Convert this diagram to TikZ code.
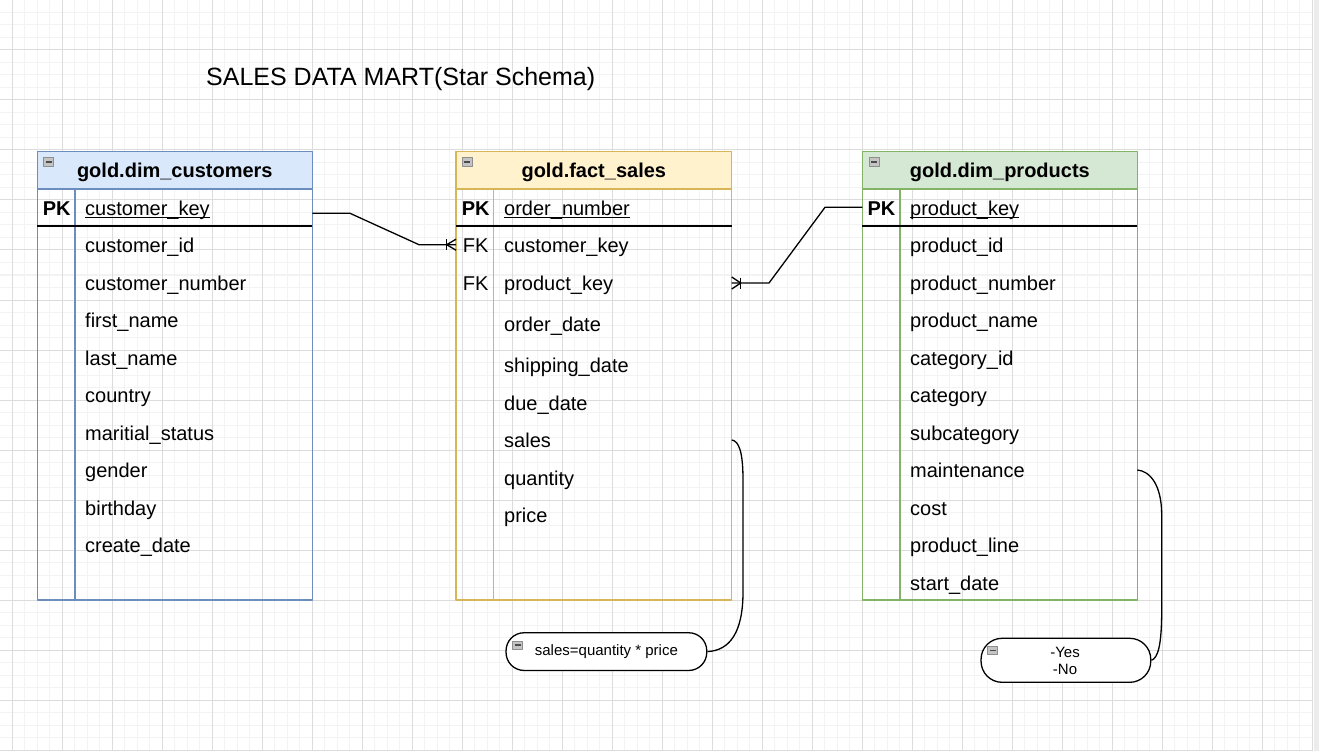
\documentclass[tikz,border=0pt]{standalone}
\usepackage{fontspec}
\setmainfont{Liberation Sans}
\usetikzlibrary{calc}
\definecolor{bluefill}{HTML}{DAE8FC}
\definecolor{bluestroke}{HTML}{6C8EBF}
\definecolor{yellowfill}{HTML}{FFF2CC}
\definecolor{yellowstroke}{HTML}{D6B656}
\definecolor{greenfill}{HTML}{D5E8D4}
\definecolor{greenstroke}{HTML}{82B366}
\definecolor{gridminor}{HTML}{F3F3F3}
\definecolor{gridmajor}{HTML}{DCDCDC}
\definecolor{iconfill}{HTML}{C4C4C4}
\definecolor{iconstroke}{HTML}{8E8E8E}
\newcommand\keyline[1]{\setbox0=\hbox{#1}\rlap{\rule[-2.6pt]{\wd0}{1.1pt}}\box0}
\tikzset{
  rowtxt/.style={anchor=base west, inner sep=0pt, font=\fontsize{20}{24}\selectfont},
  keytxt/.style={anchor=base west, inner sep=0pt, font=\fontsize{20}{24}\selectfont\bfseries},
  hdrtxt/.style={anchor=base, inner sep=0pt, font=\fontsize{20}{24}\selectfont\bfseries},
  hdrbox/.style={anchor=north west, line width=1.3pt, minimum width=275, minimum height=37.3, inner sep=0pt, outer sep=0pt},
  bodybox/.style={anchor=north west, line width=1.3pt, minimum width=275, minimum height=411, inner sep=0pt, outer sep=0pt},
  rowanchor/.style={inner sep=0pt, outer sep=0pt, minimum width=275, minimum height=30},
  icon/.style={draw=iconstroke, fill=iconfill, line width=0.8pt, minimum width=10, minimum height=9, inner sep=0pt,
    path picture={\draw[black!70, line width=1.6pt] ([xshift=-3pt]path picture bounding box.center) -- ([xshift=3pt]path picture bounding box.center);}},
  conn/.style={draw=black, line width=1.3pt},
  notebox/.style={draw=black, fill=white, line width=1.3pt, inner sep=0pt},
  notetxt/.style={font=\fontsize{15}{17.3}\selectfont, inner sep=0pt}
}
\begin{document}
\begin{tikzpicture}[x=1pt,y=-1pt,line join=round]
\useasboundingbox (0,0) rectangle (1319,751);
\fill[white] (0,0) rectangle (1319,751);
% grid
\foreach \i in {0,...,104} {\pgfmathsetmacro\xx{12.3+12.5*\i}\draw[gridminor,line width=1pt] (\xx,0) -- (\xx,751);}
\foreach \j in {1,...,60} {\pgfmathsetmacro\yy{12.5*\j}\draw[gridminor,line width=1pt] (0,\yy) -- (1313,\yy);}
\foreach \i in {0,...,26} {\pgfmathsetmacro\xx{12.3+50*\i}\draw[gridmajor,line width=1pt] (\xx,0) -- (\xx,751);}
\foreach \j in {1,...,15} {\pgfmathsetmacro\yy{50*\j}\draw[gridmajor,line width=1pt] (0,\yy) -- (1313,\yy);}
\fill[gray!15] (1313.5,0) rectangle (1319,751);

% title
\node[anchor=base west, inner sep=0pt, font=\fontsize{25}{29}\selectfont] (title) at (206,85.5) {SALES DATA MART(Star Schema)};

% ===== customers table =====
\node[hdrbox, fill=bluefill, draw=bluestroke] (cust-h) at (37.3,151.7) {};
\node[bodybox, draw=bluestroke] (cust-b) at (37.3,189) {};
\draw[bluestroke, line width=1.3pt] (75,189) -- (75,600);
\draw[black, line width=1.3pt] (37.3,226) -- (312.3,226);
\node[icon] (cust-i) at (48.8,162) {};
\node[hdrtxt] (cust-t) at (174.8,177.3) {gold.dim\_customers};
\node[keytxt] (cust-pk) at (42.7,215.3) {PK};
\node[rowtxt] (cust-r0) at (85,215.3) {\keyline{customer\_key}};
\node[rowtxt] (cust-r1) at (85,252.3) {customer\_id};
\node[rowtxt] (cust-r2) at (85,290.3) {customer\_number};
\node[rowtxt] (cust-r3) at (85,327.3) {first\_name};
\node[rowtxt] (cust-r4) at (85,365.3) {last\_name};
\node[rowtxt] (cust-r5) at (85,402.3) {country};
\node[rowtxt] (cust-r6) at (85,440.3) {maritial\_status};
\node[rowtxt] (cust-r7) at (85,477.3) {gender};
\node[rowtxt] (cust-r8) at (85,515.3) {birthday};
\node[rowtxt] (cust-r9) at (85,552.3) {create\_date};
\node[rowanchor] (cust-pkrow) at (174.8,213.3) {};

% ===== fact table =====
\node[hdrbox, fill=yellowfill, draw=yellowstroke, minimum width=275.7] (fact-h) at (456,151.7) {};
\node[bodybox, draw=yellowstroke, minimum width=275.7] (fact-b) at (456,189) {};
\draw[yellowstroke, line width=1.3pt] (493.3,189) -- (493.3,600);
\draw[black, line width=1.3pt] (456,226) -- (731.7,226);
\node[icon] (fact-i) at (467.3,162) {};
\node[hdrtxt] (fact-t) at (593.8,177.3) {gold.fact\_sales};
\node[keytxt] (fact-pk) at (461.7,215.3) {PK};
\node[rowtxt] (fact-fk1) at (462.7,252.3) {FK};
\node[rowtxt] (fact-fk2) at (462.7,290.3) {FK};
\node[rowtxt] (fact-r0) at (504,215.3) {\keyline{order\_number}};
\node[rowtxt] (fact-r1) at (504,252.3) {customer\_key};
\node[rowtxt] (fact-r2) at (504,290.3) {product\_key};
\node[rowtxt] (fact-r3) at (504,331.3) {order\_date};
\node[rowtxt] (fact-r4) at (504,372.3) {shipping\_date};
\node[rowtxt] (fact-r5) at (504,410.3) {due\_date};
\node[rowtxt] (fact-r6) at (504,447.3) {sales};
\node[rowtxt] (fact-r7) at (504,485.3) {quantity};
\node[rowtxt] (fact-r8) at (504,522.3) {price};
\node[rowanchor, minimum width=275.7] (fact-ckrow) at (593.85,244.7) {};
\node[rowanchor, minimum width=275.7] (fact-pkeyrow) at (593.85,283) {};
\node[rowanchor, minimum width=275.7] (fact-salesrow) at (593.85,440) {};

% ===== products table =====
\node[hdrbox, fill=greenfill, draw=greenstroke] (prod-h) at (862.3,151.7) {};
\node[bodybox, draw=greenstroke] (prod-b) at (862.3,189) {};
\draw[greenstroke, line width=1.3pt] (900,189) -- (900,600);
\draw[black, line width=1.3pt] (862.3,226) -- (1137.3,226);
\node[icon] (prod-i) at (874,162) {};
\node[hdrtxt] (prod-t) at (999.8,177.3) {gold.dim\_products};
\node[keytxt] (prod-pk) at (867.3,215.3) {PK};
\node[rowtxt] (prod-r0) at (910,215.3) {\keyline{product\_key}};
\node[rowtxt] (prod-r1) at (910,252.3) {product\_id};
\node[rowtxt] (prod-r2) at (910,290.3) {product\_number};
\node[rowtxt] (prod-r3) at (910,327.3) {product\_name};
\node[rowtxt] (prod-r4) at (910,365.3) {category\_id};
\node[rowtxt] (prod-r5) at (910,402.3) {category};
\node[rowtxt] (prod-r6) at (910,440.3) {subcategory};
\node[rowtxt] (prod-r7) at (910,477.3) {maintenance};
\node[rowtxt] (prod-r8) at (910,515.3) {cost};
\node[rowtxt] (prod-r9) at (910,552.3) {product\_line};
\node[rowtxt] (prod-r10) at (910,590.3) {start\_date};
\node[rowanchor] (prod-pkrow) at (999.8,207.3) {};
\node[rowanchor] (prod-mrow) at (999.8,470) {};

% ===== notes =====
\node[notebox, rounded corners=18pt, minimum width=200.7, minimum height=37.7,
      notetxt, text height=11pt, text depth=3pt] (note1) at (606.4,651.6) {sales=quantity * price};
\node[icon, minimum height=8] (note1-i) at (517.5,645) {};
\node[notebox, rounded corners=21pt, minimum width=169.7, minimum height=44] (note2) at (1065.9,660.3) {};
\node[icon, minimum height=8] (note2-i) at (992.5,650.5) {};
\node[notetxt, anchor=base] (note2-a) at (1065,657.3) {-Yes};
\node[notetxt, anchor=base] (note2-b) at (1065,674.6) {-No};

% ===== connectors =====
\draw[conn] (cust-pkrow.east) -- ++(37.7,0) -- ($(fact-ckrow.west)+(-37,0)$) -- (fact-ckrow.west);
\draw[conn] ($(fact-ckrow.west)+(-9.3,-5.5)$) -- ($(fact-ckrow.west)+(-9.3,5.5)$);
\draw[conn] ($(fact-ckrow.west)+(-9.3,0)$) -- ($(fact-ckrow.west)+(0,-5.5)$);
\draw[conn] ($(fact-ckrow.west)+(-9.3,0)$) -- ($(fact-ckrow.west)+(0,5.5)$);

\draw[conn] (prod-pkrow.west) -- ++(-37.3,0) -- ($(fact-pkeyrow.east)+(37.3,0)$) -- (fact-pkeyrow.east);
\draw[conn] ($(fact-pkeyrow.east)+(9,-5.5)$) -- ($(fact-pkeyrow.east)+(9,5.5)$);
\draw[conn] ($(fact-pkeyrow.east)+(9,0)$) -- ($(fact-pkeyrow.east)+(0,-6)$);
\draw[conn] ($(fact-pkeyrow.east)+(9,0)$) -- ($(fact-pkeyrow.east)+(0,6)$);

\draw[conn] (fact-salesrow.east) .. controls (739,441) and (743,452) .. (743,480) -- (743,592)
   .. controls (743,632) and (730,650.5) .. (note1.east);
\draw[conn] (prod-mrow.east) .. controls (1150,471) and (1161.7,485) .. (1161.7,515) -- (1161.7,610)
   .. controls (1161.7,645) and (1158,658) .. (note2.east);
\end{tikzpicture}
\end{document}
